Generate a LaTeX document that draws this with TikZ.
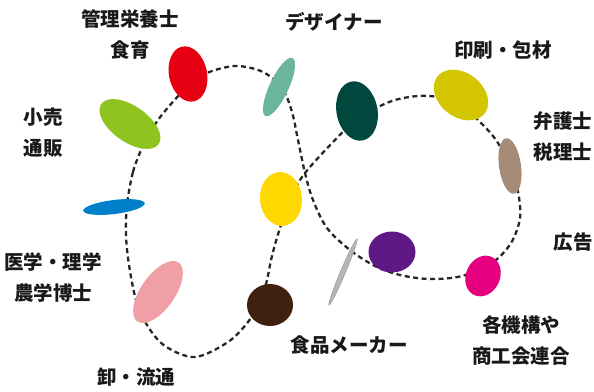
\documentclass[tikz,border=0pt]{standalone}
\usepackage{fontspec}
\setmainfont{Noto Sans CJK JP}
\usetikzlibrary{shapes.geometric}
\definecolor{cRed}{HTML}{E60012}
\definecolor{cGreen}{HTML}{8FC31F}
\definecolor{cTeal}{HTML}{6BB59A}
\definecolor{cBlue}{HTML}{0080CB}
\definecolor{cPink}{HTML}{F19FA7}
\definecolor{cBrown}{HTML}{40210F}
\definecolor{cYellow}{HTML}{FFD800}
\definecolor{cDark}{HTML}{00473E}
\definecolor{cOlive}{HTML}{D3C500}
\definecolor{cTan}{HTML}{A68B77}
\definecolor{cPurple}{HTML}{5F1985}
\definecolor{cMagenta}{HTML}{E4007F}
\definecolor{cGrey}{HTML}{B6B6B7}
\begin{document}
\begin{tikzpicture}[x=1pt,y=-1pt,
  blob/.style={ellipse, inner sep=0pt, draw=none},
  lab/.style={font=\fontsize{19.5}{31}\selectfont\bfseries, align=center, inner sep=0pt, text=black!90},
  loopline/.style={dash pattern=on 5pt off 3.5pt, line width=2.3pt, black!85}]
\useasboundingbox (0,0) rectangle (594,391);
% dashed figure-eight loop
\draw[loopline] plot[smooth cycle, tension=0.55] coordinates {
 (127,205) (133,172) (143,146) (158,120) (180,94) (195,80) (212,71) (237,66)
 (263,72) (282,88) (292,112) (298,140) (305,173) (313,200) (327,228) (350,250)
 (375,266) (400,275) (430,279) (462,276) (492,263) (511,243) (520,218) (518,192)
 (510,166) (496,140) (478,120) (458,103) (438,97) (418,96) (395,100) (376,108)
 (357,119) (333,142) (305,173) (292,195) (280,228) (272,256) (266,284) (258,305)
 (248,322) (228,342) (195,357) (165,346) (147,325) (136,300) (129,265) (126,235)};
% ellipses
\node[blob, fill=cRed, minimum width=56pt, minimum height=38pt, rotate=102] (red) at (188,74) {};
\node[blob, fill=cGreen, minimum width=70pt, minimum height=36pt, rotate=-35] (green) at (130,124) {};
\node[blob, fill=cTeal, minimum width=64pt, minimum height=19pt, rotate=65] (teal) at (279,87) {};
\node[blob, fill=cBlue, minimum width=62pt, minimum height=14pt, rotate=7] (blue) at (114,207) {};
\node[blob, fill=cPink, minimum width=72pt, minimum height=34pt, rotate=55] (pink) at (158,292) {};
\node[blob, fill=cBrown, minimum width=46pt, minimum height=42pt] (brown) at (270,305) {};
\node[blob, fill=cYellow, minimum width=54pt, minimum height=42pt, rotate=95] (yellow) at (281,199) {};
\node[blob, fill=cDark, minimum width=60pt, minimum height=41pt, rotate=101] (dark) at (357,111) {};
\node[blob, fill=cOlive, minimum width=60pt, minimum height=44pt, rotate=-38] (olive) at (461,95) {};
\node[blob, fill=cTan, minimum width=56pt, minimum height=22pt, rotate=98] (tan) at (510,166) {};
\node[blob, fill=cPurple, minimum width=47pt, minimum height=41pt] (purple) at (392,252) {};
\node[blob, fill=cMagenta, minimum width=42pt, minimum height=34pt, rotate=65] (magenta) at (483,276) {};
\node[blob, fill=cGrey, draw=black!40, line width=0.5pt, minimum width=72pt, minimum height=5pt, rotate=67] (grey) at (343,272) {};
% labels
\node[lab] (tKanri) at (130,34) {管理栄養士\\食育};
\node[lab] (tDesign) at (334,22) {デザイナー};
\node[lab] (tInsatsu) at (503,50) {印刷・包材};
\node[lab] (tBengo) at (563,137) {弁護士\\税理士};
\node[lab] (tKouri) at (43,133) {小売\\通販};
\node[lab] (tIgaku) at (53,278) {医学・理学\\農学博士};
\node[lab] (tOroshi) at (136,377) {卸・流通};
\node[lab] (tShoku) at (349,345) {食品メーカー};
\node[lab] (tKoukoku) at (573,242) {広告};
\node[lab] (tKikou) at (521,340) {各機構や\\商工会連合};
\end{tikzpicture}
\end{document}
